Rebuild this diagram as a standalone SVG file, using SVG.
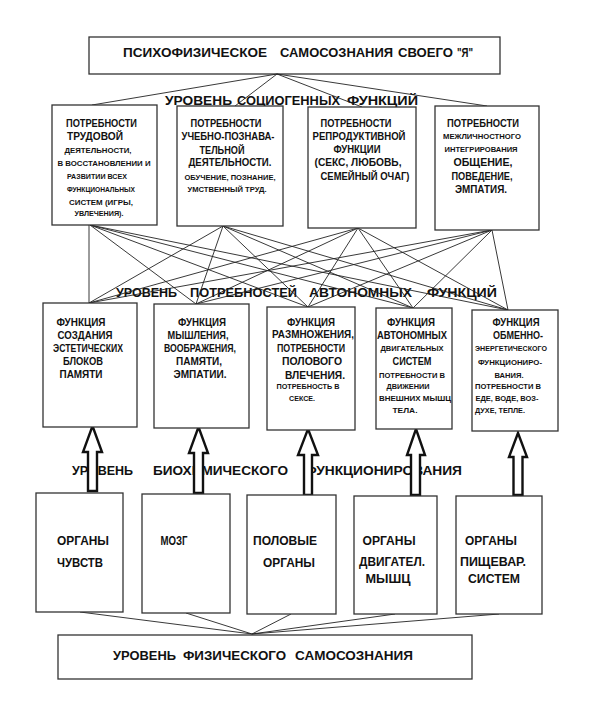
<svg xmlns="http://www.w3.org/2000/svg" width="591" height="716" viewBox="0 0 591 716">
<style>
.bg{fill:#fff}
.box{fill:#fff;stroke:#333;stroke-width:1.3}
.ln{stroke:#222;stroke-width:0.9;fill:none}
.arr{fill:#fff;stroke:#111;stroke-width:2.4;stroke-linejoin:miter}
text{font-family:"Liberation Sans",Arial,sans-serif;font-weight:bold;fill:#111}
.t{font-size:13.5px}
.lv{font-size:13px}
.b{font-size:11px;text-anchor:middle}
.s{font-size:8px;text-anchor:middle}
.o{font-size:13.5px;text-anchor:middle}
</style>
<rect class="bg" x="0" y="0" width="591" height="716"/>

<g id="top">
<rect class="box" x="89" y="37" width="411" height="37"/>
<text class="t" y="57"><tspan x="123" textLength="144" lengthAdjust="spacingAndGlyphs">ПСИХОФИЗИЧЕСКОЕ</tspan> <tspan x="280" textLength="113" lengthAdjust="spacingAndGlyphs">САМОСОЗНАНИЯ</tspan> <tspan x="398" textLength="55" lengthAdjust="spacingAndGlyphs">СВОЕГО</tspan> <tspan x="457" textLength="16" lengthAdjust="spacingAndGlyphs">"Я"</tspan></text>
</g>

<g id="level-socio">
<text class="lv" y="105"><tspan x="165" textLength="67" lengthAdjust="spacingAndGlyphs">УРОВЕНЬ</tspan> <tspan x="237" textLength="103" lengthAdjust="spacingAndGlyphs">СОЦИОГЕННЫХ</tspan> <tspan x="347" textLength="71" lengthAdjust="spacingAndGlyphs">ФУНКЦИЙ</tspan></text>
</g>
<g id="level-auto">
<text class="lv" y="297"><tspan x="116" textLength="61" lengthAdjust="spacingAndGlyphs">УРОВЕНЬ</tspan> <tspan x="190" textLength="107" lengthAdjust="spacingAndGlyphs">ПОТРЕБНОСТЕЙ</tspan> <tspan x="309" textLength="103" lengthAdjust="spacingAndGlyphs">АВТОНОМНЫХ</tspan> <tspan x="427" textLength="70" lengthAdjust="spacingAndGlyphs">ФУНКЦИЙ</tspan></text>
</g>
<g id="level-bio">
<text class="lv" y="475"><tspan x="72" textLength="61" lengthAdjust="spacingAndGlyphs">УРОВЕНЬ</tspan> <tspan x="153" textLength="135" lengthAdjust="spacingAndGlyphs">БИОХИМИЧЕСКОГО</tspan> <tspan x="305" textLength="157" lengthAdjust="spacingAndGlyphs">ФУНКЦИОНИРОВАНИЯ</tspan></text>
</g>

<g id="connectors">
<line class="ln" x1="277" y1="74" x2="92" y2="105"/>
<line class="ln" x1="277" y1="74" x2="235" y2="106"/>
<line class="ln" x1="277" y1="74" x2="362" y2="107"/>
<line class="ln" x1="277" y1="74" x2="487" y2="106"/>

<line class="ln" x1="89" y1="225" x2="89" y2="303"/>
<line class="ln" x1="90" y1="225" x2="196" y2="304"/>
<line class="ln" x1="90" y1="225" x2="308" y2="307"/>
<line class="ln" x1="90" y1="225" x2="413" y2="308"/>
<line class="ln" x1="90" y1="225" x2="508" y2="310"/>
<line class="ln" x1="223" y1="226" x2="89" y2="303"/>
<line class="ln" x1="223" y1="226" x2="196" y2="304"/>
<line class="ln" x1="223" y1="226" x2="308" y2="307"/>
<line class="ln" x1="223" y1="226" x2="413" y2="308"/>
<line class="ln" x1="223" y1="226" x2="508" y2="310"/>
<line class="ln" x1="358" y1="228" x2="89" y2="303"/>
<line class="ln" x1="358" y1="228" x2="196" y2="304"/>
<line class="ln" x1="358" y1="228" x2="308" y2="307"/>
<line class="ln" x1="358" y1="228" x2="413" y2="308"/>
<line class="ln" x1="358" y1="228" x2="508" y2="310"/>
<line class="ln" x1="492" y1="230" x2="89" y2="303"/>
<line class="ln" x1="492" y1="230" x2="196" y2="304"/>
<line class="ln" x1="492" y1="230" x2="308" y2="307"/>
<line class="ln" x1="492" y1="230" x2="413" y2="308"/>
<line class="ln" x1="492" y1="230" x2="508" y2="310"/>

<line class="ln" x1="80" y1="612" x2="252" y2="634"/>
<line class="ln" x1="186" y1="613" x2="252" y2="634"/>
<line class="ln" x1="291" y1="614" x2="252" y2="634"/>
<line class="ln" x1="395" y1="614" x2="252" y2="634"/>
<line class="ln" x1="499" y1="614" x2="252" y2="634"/>

<path class="arr" d="M92.5,426 L102,452 L97,452 L97,491 L88,491 L88,452 L83,452 Z"/>
<path class="arr" d="M198.5,427 L208,453 L203,453 L203,493 L194,493 L194,453 L189,453 Z"/>
<path class="arr" d="M308,429 L318,455 L312,455 L312,495 L304,495 L304,455 L298,455 Z"/>
<path class="arr" d="M416,429 L425,455 L420,455 L420,495 L411,495 L411,455 L407,455 Z"/>
<path class="arr" d="M518,433 L527,457 L522.5,457 L522.5,495 L513.5,495 L513.5,457 L509,457 Z"/>
</g>

<g id="need-labor">
<rect class="box" x="52" y="105" width="105" height="120"/>
<text class="b" x="101.5" y="127" textLength="71" lengthAdjust="spacingAndGlyphs">ПОТРЕБНОСТИ</text>
<text class="b" x="95" y="140" textLength="56" lengthAdjust="spacingAndGlyphs">ТРУДОВОЙ</text>
<text class="s" x="98" y="153" textLength="67" lengthAdjust="spacingAndGlyphs">ДЕЯТЕЛЬНОСТИ,</text>
<text class="s" x="104" y="166" textLength="93" lengthAdjust="spacingAndGlyphs">В ВОССТАНОВЛЕНИИ И</text>
<text class="s" x="97" y="179" textLength="60" lengthAdjust="spacingAndGlyphs">РАЗВИТИИ ВСЕХ</text>
<text class="s" x="101" y="192" textLength="68" lengthAdjust="spacingAndGlyphs">ФУНКЦИОНАЛЬНЫХ</text>
<text class="s" x="101" y="205" textLength="64" lengthAdjust="spacingAndGlyphs">СИСТЕМ (ИГРЫ,</text>
<text class="s" x="99" y="216" textLength="49" lengthAdjust="spacingAndGlyphs">УВЛЕЧЕНИЯ).</text>
</g>

<g id="need-study">
<rect class="box" x="177" y="106" width="106" height="120"/>
<text class="b" x="226" y="127" textLength="71" lengthAdjust="spacingAndGlyphs">ПОТРЕБНОСТИ</text>
<text class="b" x="228" y="140" textLength="93" lengthAdjust="spacingAndGlyphs">УЧЕБНО-ПОЗНАВА-</text>
<text class="b" x="222" y="154" textLength="45" lengthAdjust="spacingAndGlyphs">ТЕЛЬНОЙ</text>
<text class="b" x="230" y="166" textLength="83" lengthAdjust="spacingAndGlyphs">ДЕЯТЕЛЬНОСТИ.</text>
<text class="s" x="230" y="180" textLength="91" lengthAdjust="spacingAndGlyphs">ОБУЧЕНИЕ, ПОЗНАНИЕ,</text>
<text class="s" x="227" y="192" textLength="79" lengthAdjust="spacingAndGlyphs">УМСТВЕННЫЙ  ТРУД.</text>
</g>

<g id="need-repro">
<rect class="box" x="308" y="107" width="108" height="121"/>
<text class="b" x="356" y="127" textLength="71" lengthAdjust="spacingAndGlyphs">ПОТРЕБНОСТИ</text>
<text class="b" x="359" y="140" textLength="93" lengthAdjust="spacingAndGlyphs">РЕПРОДУКТИВНОЙ</text>
<text class="b" x="357" y="153" textLength="47" lengthAdjust="spacingAndGlyphs">ФУНКЦИИ</text>
<text class="b" x="358" y="166" textLength="87" lengthAdjust="spacingAndGlyphs">(СЕКС, ЛЮБОВЬ,</text>
<text class="b" x="365" y="180" textLength="89" lengthAdjust="spacingAndGlyphs">СЕМЕЙНЫЙ ОЧАГ)</text>
</g>

<g id="need-social">
<rect class="box" x="435" y="106" width="104" height="124"/>
<text class="b" x="483" y="127" textLength="72" lengthAdjust="spacingAndGlyphs">ПОТРЕБНОСТИ</text>
<text class="s" x="482" y="139" textLength="78" lengthAdjust="spacingAndGlyphs">МЕЖЛИЧНОСТНОГО</text>
<text class="s" x="481" y="152" textLength="73" lengthAdjust="spacingAndGlyphs">ИНТЕГРИРОВАНИЯ</text>
<text class="b" x="483" y="166" textLength="59" lengthAdjust="spacingAndGlyphs">ОБЩЕНИЕ,</text>
<text class="b" x="482" y="180" textLength="61" lengthAdjust="spacingAndGlyphs">ПОВЕДЕНИЕ,</text>
<text class="b" x="481" y="193" textLength="52" lengthAdjust="spacingAndGlyphs">ЭМПАТИЯ.</text>
</g>

<g id="func-aesthetic">
<rect class="box" x="43" y="303" width="94" height="124"/>
<text class="b" x="81" y="326" textLength="49" lengthAdjust="spacingAndGlyphs">ФУНКЦИЯ</text>
<text class="b" x="85" y="339" textLength="55" lengthAdjust="spacingAndGlyphs">СОЗДАНИЯ</text>
<text class="b" x="88" y="352" textLength="70" lengthAdjust="spacingAndGlyphs">ЭСТЕТИЧЕСКИХ</text>
<text class="b" x="83" y="365" textLength="40" lengthAdjust="spacingAndGlyphs">БЛОКОВ</text>
<text class="b" x="81" y="378" textLength="43" lengthAdjust="spacingAndGlyphs">ПАМЯТИ</text>
</g>

<g id="func-thinking">
<rect class="box" x="154" y="304" width="95" height="124"/>
<text class="b" x="202" y="326" textLength="48" lengthAdjust="spacingAndGlyphs">ФУНКЦИЯ</text>
<text class="b" x="198" y="339" textLength="61" lengthAdjust="spacingAndGlyphs">МЫШЛЕНИЯ,</text>
<text class="b" x="200" y="352" textLength="72" lengthAdjust="spacingAndGlyphs">ВООБРАЖЕНИЯ,</text>
<text class="b" x="199" y="365" textLength="46" lengthAdjust="spacingAndGlyphs">ПАМЯТИ,</text>
<text class="b" x="200" y="378" textLength="53" lengthAdjust="spacingAndGlyphs">ЭМПАТИИ.</text>
</g>

<g id="func-repro">
<rect class="box" x="267" y="307" width="88" height="123"/>
<text class="b" x="311" y="326" textLength="48" lengthAdjust="spacingAndGlyphs">ФУНКЦИЯ</text>
<text class="b" x="313" y="338" textLength="82" lengthAdjust="spacingAndGlyphs">РАЗМНОЖЕНИЯ,</text>
<text class="b" x="311" y="352" textLength="68" lengthAdjust="spacingAndGlyphs">ПОТРЕБНОСТИ</text>
<text class="b" x="312" y="365" textLength="60" lengthAdjust="spacingAndGlyphs">ПОЛОВОГО</text>
<text class="b" x="315" y="379" textLength="60" lengthAdjust="spacingAndGlyphs">ВЛЕЧЕНИЯ.</text>
<text class="s" x="308" y="389" textLength="63" lengthAdjust="spacingAndGlyphs">ПОТРЕБНОСТЬ В</text>
<text class="s" x="302" y="401" textLength="26" lengthAdjust="spacingAndGlyphs">СЕКСЕ.</text>
</g>

<g id="func-motor">
<rect class="box" x="376" y="308" width="76" height="121"/>
<text class="b" x="411" y="326" textLength="48" lengthAdjust="spacingAndGlyphs">ФУНКЦИЯ</text>
<text class="b" x="412" y="339" textLength="70" lengthAdjust="spacingAndGlyphs">АВТОНОМНЫХ</text>
<text class="s" x="412" y="351" textLength="63" lengthAdjust="spacingAndGlyphs">ДВИГАТЕЛЬНЫХ</text>
<text class="b" x="412" y="365" textLength="39" lengthAdjust="spacingAndGlyphs">СИСТЕМ</text>
<text class="s" x="412" y="378" textLength="66" lengthAdjust="spacingAndGlyphs">ПОТРЕБНОСТИ В</text>
<text class="s" x="408" y="389" textLength="43" lengthAdjust="spacingAndGlyphs">ДВИЖЕНИИ</text>
<text class="s" x="415" y="401" textLength="72" lengthAdjust="spacingAndGlyphs">ВНЕШНИХ  МЫШЦ</text>
<text class="s" x="405" y="413" textLength="25" lengthAdjust="spacingAndGlyphs">ТЕЛА.</text>
</g>

<g id="func-metabolic">
<rect class="box" x="472" y="310" width="86" height="121"/>
<text class="b" x="516" y="326" textLength="47" lengthAdjust="spacingAndGlyphs">ФУНКЦИЯ</text>
<text class="b" x="518" y="339" textLength="50" lengthAdjust="spacingAndGlyphs">ОБМЕННО-</text>
<text class="s" x="511" y="351" textLength="72" lengthAdjust="spacingAndGlyphs">ЭНЕРГЕТИЧЕСКОГО</text>
<text class="s" x="510" y="365" textLength="64" lengthAdjust="spacingAndGlyphs">ФУНКЦИОНИРО-</text>
<text class="s" x="509" y="378" textLength="29" lengthAdjust="spacingAndGlyphs">ВАНИЯ.</text>
<text class="s" x="508" y="389" textLength="66" lengthAdjust="spacingAndGlyphs">ПОТРЕБНОСТИ  В</text>
<text class="s" x="507" y="401" textLength="63" lengthAdjust="spacingAndGlyphs">ЕДЕ, ВОДЕ, ВОЗ-</text>
<text class="s" x="500" y="413" textLength="50" lengthAdjust="spacingAndGlyphs">ДУХЕ, ТЕПЛЕ.</text>
</g>

<g id="organ-senses">
<rect class="box" x="36" y="493" width="87" height="119"/>
<text class="o" x="83" y="545" textLength="52" lengthAdjust="spacingAndGlyphs">ОРГАНЫ</text>
<text class="o" x="80" y="567" textLength="46" lengthAdjust="spacingAndGlyphs">ЧУВСТВ</text>
</g>
<g id="organ-brain">
<rect class="box" x="142" y="494" width="88" height="119"/>
<text class="o" x="174" y="545" textLength="27" lengthAdjust="spacingAndGlyphs">МОЗГ</text>
</g>
<g id="organ-sex">
<rect class="box" x="247" y="495" width="89" height="119"/>
<text class="o" x="285" y="545" textLength="64" lengthAdjust="spacingAndGlyphs">ПОЛОВЫЕ</text>
<text class="o" x="289" y="567" textLength="52" lengthAdjust="spacingAndGlyphs">ОРГАНЫ</text>
</g>
<g id="organ-motor">
<rect class="box" x="354" y="496" width="83" height="118"/>
<text class="o" x="389" y="545" textLength="53" lengthAdjust="spacingAndGlyphs">ОРГАНЫ</text>
<text class="o" x="392" y="566" textLength="66" lengthAdjust="spacingAndGlyphs">ДВИГАТЕЛ.</text>
<text class="o" x="388" y="583" textLength="45" lengthAdjust="spacingAndGlyphs">МЫШЦ</text>
</g>
<g id="organ-digest">
<rect class="box" x="456" y="496" width="86" height="118"/>
<text class="o" x="491" y="545" textLength="52" lengthAdjust="spacingAndGlyphs">ОРГАНЫ</text>
<text class="o" x="493" y="566" textLength="66" lengthAdjust="spacingAndGlyphs">ПИЩЕВАР.</text>
<text class="o" x="494" y="583" textLength="52" lengthAdjust="spacingAndGlyphs">СИСТЕМ</text>
</g>

<g id="physical">
<rect class="box" x="58" y="635" width="414" height="44"/>
<text class="lv" y="660"><tspan x="113" textLength="63" lengthAdjust="spacingAndGlyphs">УРОВЕНЬ</tspan> <tspan x="183" textLength="103" lengthAdjust="spacingAndGlyphs">ФИЗИЧЕСКОГО</tspan> <tspan x="295" textLength="118" lengthAdjust="spacingAndGlyphs">САМОСОЗНАНИЯ</tspan></text>
</g>
</svg>
